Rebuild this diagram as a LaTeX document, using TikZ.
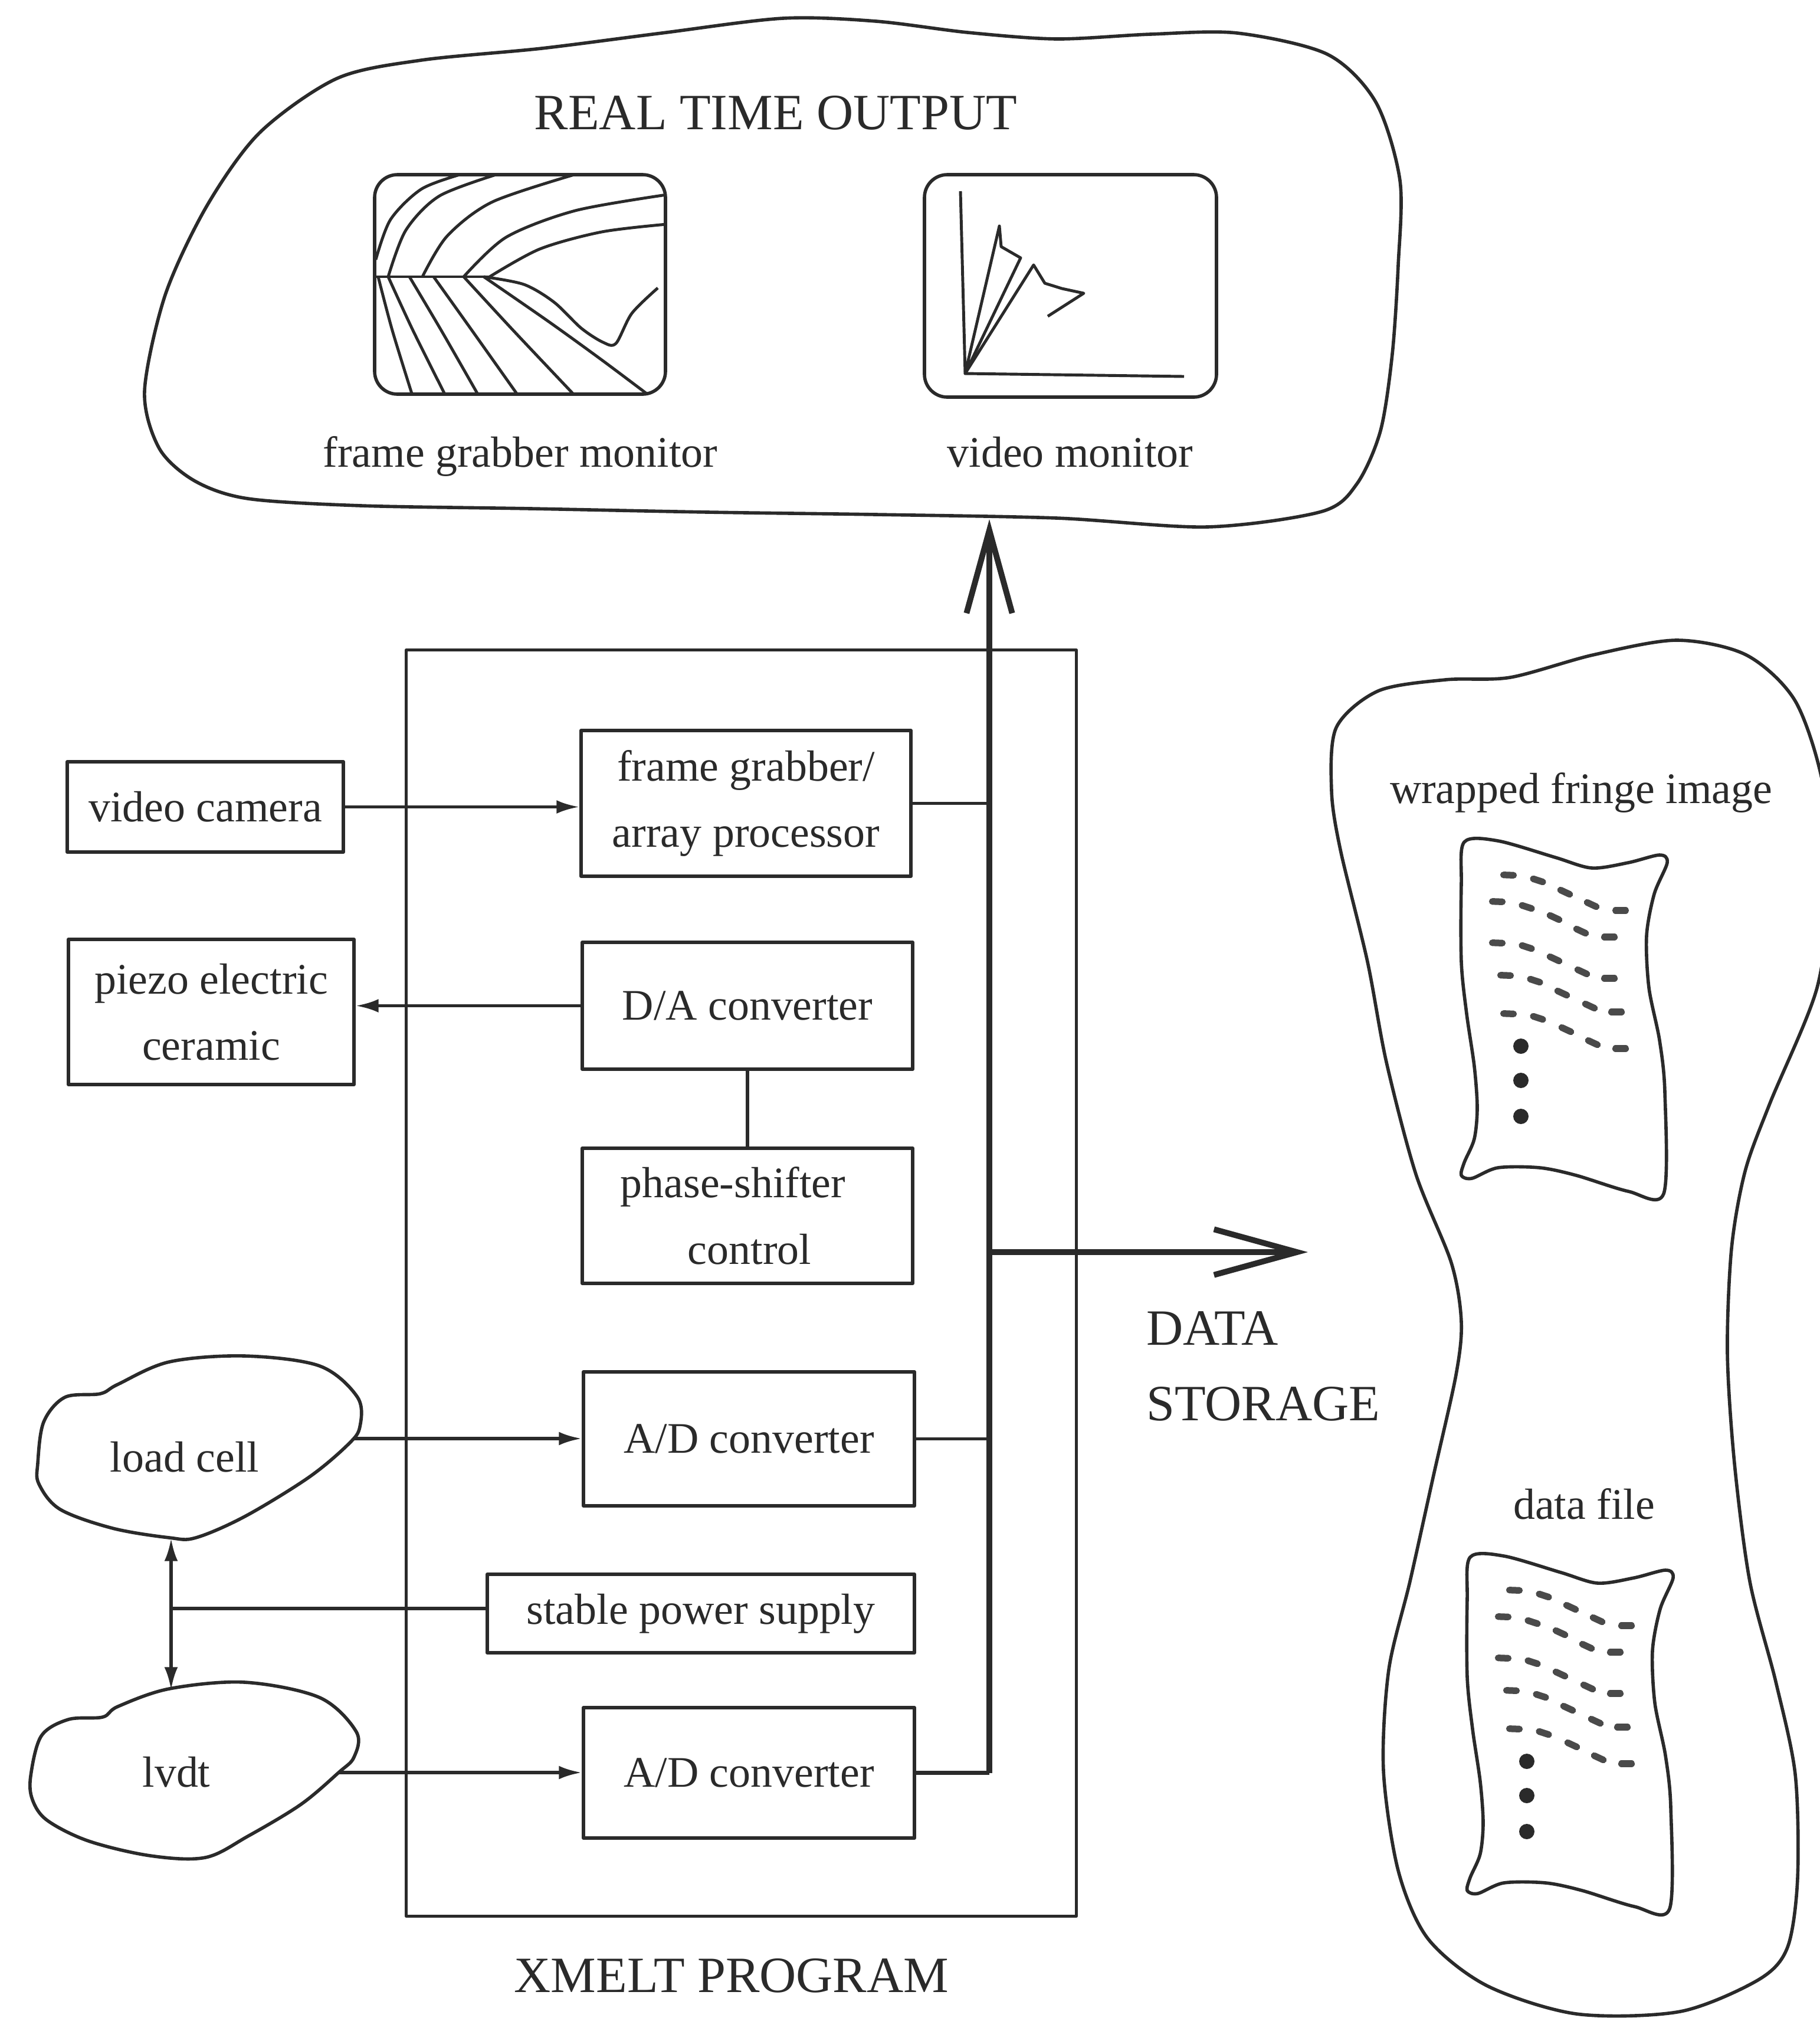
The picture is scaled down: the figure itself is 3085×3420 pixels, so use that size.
\documentclass[tikz,border=0pt]{standalone}
\usepackage{fontspec}
\setmainfont{Liberation Serif}
\usetikzlibrary{arrows.meta}
\definecolor{ink}{RGB}{42,42,42}
\newcommand{\mylbl}{\fontsize{21}{32}\selectfont}
\newcommand{\mycap}{\fontsize{24.5}{30}\selectfont}

\tikzset{
  sheet/.pic={
    \draw[blobline] plot[smooth cycle, tension=0.5] coordinates {
      (0,0) (57,-2) (154,26) (216,44) (278,35) (331,22) (344,35) (322,88)
      (309,159) (313,247) (331,336) (340,424) (338,596) (278,592) (190,565)
      (128,552) (57,552) (13,570) (-5,565) (0,543) (17,503) (22,450) (17,380)
      (4,291) (-5,203) (-5,71)};
    \foreach \px/\py/\pa in {
      75/56/2, 125/65/18, 171/85/25, 216/106/25, 265/116/0,
      56/101/2, 106/110/18, 153/128/25, 198/151/25, 246/161/0,
      56/171/2, 106/178/18, 153/198/25, 200/220/25, 246/231/0,
      70/226/2, 120/235/18, 166/256/25, 213/278/25, 258/288/0,
      75/291/2, 125/298/18, 173/318/25, 218/340/25, 265/350/0}
      \draw[ink!85, line width=3.2pt, line cap=round] (\px,\py) ++({\pa+180}:8.5) -- ++(\pa:17);
    \foreach \py in {346,404,465}
      \fill[ink] (96,\py) circle (13);
  },
}

\begin{document}
\begin{tikzpicture}[x=0.01cm, y=-0.01cm, line join=round,
  every node/.style={text=ink},
  blobline/.style={draw=ink, line width=1.6pt},
  conn/.style={draw=ink, line width=1.6pt},
  smallhead/.style={-{Latex[length=11pt,width=6.5pt]}},
  bigarrow/.style={draw=ink, line width=2.8pt, -{Straight Barb[length=40pt,width=22pt,line width=2.8pt]}},
  box/.style={draw=ink, line width=1.6pt, rectangle, inner sep=0pt, align=center, font=\mylbl},
  lbl/.style={font=\mylbl, inner sep=0pt},
  captext/.style={font=\mycap, inner sep=0pt},
  monitor/.style={draw=ink, line width=1.6pt, rounded corners=11pt},
  trace/.style={draw=ink, line width=1.4pt},
]
\useasboundingbox (0,0) rectangle (3085,3420);
\clip (0,0) rectangle (3085,3420);

% ---------- real time output ----------
\draw[blobline] plot[smooth cycle, tension=0.5] coordinates {
  (245,663) (280,500) (350,350) (440,225) (571,133) (714,102) (918,82)
  (1122,56) (1327,31) (1485,36) (1640,55) (1791,66) (1950,58) (2097,56)
  (2250,92) (2332,173) (2373,306) (2370,450) (2360,600) (2340,730)
  (2300,820) (2240,867) (2046,893) (1791,878) (1485,872) (1200,868)
  (900,862) (612,857) (420,845) (330,815) (270,760)};
\node[captext, anchor=base] (rto) at (1315,219) {REAL TIME OUTPUT};

% frame grabber monitor with fringe pattern
\draw[monitor] (635,296) rectangle (1128,668);
\begin{scope}
  \clip[rounded corners=11pt] (635,296) rectangle (1128,668);
  \draw[trace] (635,469) -- (830,469);
  \draw[trace] plot[smooth] coordinates {(637,440) (662,372) (715,320) (786,294)};
  \draw[trace] plot[smooth] coordinates {(658,469) (688,390) (745,332) (847,294)};
  \draw[trace] plot[smooth] coordinates {(716,469) (758,400) (835,342) (980,294)};
  \draw[trace] plot[smooth] coordinates {(786,469) (858,402) (975,357) (1130,330)};
  \draw[trace] plot[smooth] coordinates {(830,469) (915,422) (1020,393) (1130,380)};
  \draw[trace] plot[smooth] coordinates {(641,469) (665,560) (699,670)};
  \draw[trace] plot[smooth] coordinates {(658,469) (700,560) (755,670)};
  \draw[trace] plot[smooth] coordinates {(694,469) (748,560) (811,670)};
  \draw[trace] plot[smooth] coordinates {(735,469) (800,560) (878,670)};
  \draw[trace] plot[smooth] coordinates {(786,469) (870,560) (974,670)};
  \draw[trace] plot[smooth] coordinates {(820,469) (930,545) (1020,610) (1100,670)};
  \draw[trace] plot[smooth, tension=0.5] coordinates {(820,469) (888,482) (939,512) (985,556) (1022,580) (1044,582) (1071,531) (1115,488)};
\end{scope}
\node[lbl, anchor=base] (fgmlabel) at (882,791) {frame grabber monitor};

% video monitor with trace
\draw[monitor] (1567,296) rectangle (2062,673);
\draw[trace] (1628,324) -- (1636,633) -- (2007,638);
\draw[trace] (1636,633) -- (1694,383) -- (1697,418) -- (1730,437) -- cycle;
\draw[trace] (1636,633) -- (1752,449) -- (1771,480) -- (1800,489) -- (1837,497) -- (1776,536);
\node[lbl, anchor=base] (vmlabel) at (1814,791) {video monitor};

% ---------- XMELT program ----------
\node[draw=ink, line width=1.3pt, minimum width=11.35cm, minimum height=21.45cm, inner sep=0pt] (prog) at (1256.5,2174.5) {};
\node[captext, anchor=base] (proglabel) at (1240,3376) {XMELT PROGRAM};

\node[box, minimum width=5.59cm, minimum height=2.47cm] (fg) at (1264.5,1361.5) {frame grabber/\\array processor};
\node[box, minimum width=5.60cm, minimum height=2.15cm] (da) at (1267,1704.5) {D/A converter};
\node[box, minimum width=5.60cm, minimum height=2.29cm] (ps) at (1267,2060.5) {phase-shifter\hspace*{14pt}\\\hspace*{2pt}control};
\node[box, minimum width=5.61cm, minimum height=2.27cm] (ad1) at (1269.5,2438.5) {A/D converter};
\node[box, minimum width=7.24cm, minimum height=1.33cm] (sps) at (1188,2734.5) {stable power supply};
\node[box, minimum width=5.61cm, minimum height=2.21cm] (ad2) at (1269.5,3004.5) {A/D converter};

% ---------- outside devices ----------
\node[box, minimum width=4.68cm, minimum height=1.53cm] (cam) at (348,1367.5) {video camera};
\node[box, minimum width=4.84cm, minimum height=2.46cm] (pz) at (358,1715) {piezo electric\\ceramic};

\draw[blobline] plot[smooth cycle, tension=0.55] coordinates {
  (64,2480) (74,2410) (110,2368) (170,2362) (200,2346) (287,2308) (415,2298)
  (542,2315) (606,2368) (610,2418) (590,2448) (523,2504) (415,2570)
  (332,2606) (287,2606) (191,2590) (102,2558) (66,2515)};
\node[lbl, anchor=base] (lc) at (313,2494) {load cell};
\coordinate (lcout) at (598,2438);
\coordinate (lcbot) at (290,2607);

\draw[blobline] plot[smooth cycle, tension=0.55] coordinates {
  (52,3010) (70,2942) (116,2914) (174,2910) (200,2892) (287,2862) (415,2851)
  (542,2877) (604,2935) (600,2978) (574,3004) (510,3058) (420,3112)
  (348,3148) (255,3145) (150,3120) (80,3085) (55,3050)};
\node[lbl, anchor=base] (lv) at (299,3028) {lvdt};
\coordinate (lvout) at (574,3004);
\coordinate (lvtop) at (290,2864);
\coordinate (junc) at (290,2726);

% ---------- data storage ----------
\draw[blobline] plot[smooth cycle, tension=0.5] coordinates {
  (2265,1233) (2336,1171) (2450,1152) (2560,1148) (2700,1110) (2842,1085)
  (2960,1110) (3043,1188) (3090,1330) (3100,1500) (3080,1674) (3000,1870)
  (2958,1985) (2935,2116) (2928,2293) (2940,2480) (2966,2680) (3010,2850)
  (3043,3007) (3047,3183) (3030,3300) (2981,3355) (2848,3409) (2672,3413)
  (2520,3365) (2420,3285) (2370,3170) (2345,3000) (2354,2830) (2390,2680)
  (2430,2500) (2468,2330) (2477,2240) (2460,2140) (2400,1990) (2350,1800)
  (2318,1630) (2272,1440) (2257,1340)};
\node[lbl, anchor=base] (wfi) at (2680,1361) {wrapped fringe image};
\pic at (2482,1427) {sheet};
\node[lbl, anchor=base] (dfile) at (2685,2574) {data file};
\pic at (2492,2639) {sheet};

\node[captext, anchor=base west] (dlabel) at (1943,2279) {DATA};
\node[captext, anchor=base west] (slabel) at (1943,2407) {STORAGE};

% ---------- connections ----------
\coordinate (bustop) at (1677,880);
\coordinate (dsjoin) at (1677,2122);
\coordinate (dstip) at (2217,2122);

\draw[conn, smallhead] (cam.east) -- (cam.east -| fg.west);
\draw[conn, smallhead] (da.west) -- (da.west -| pz.east);
\draw[conn] (da.south) -- (ps.north);
\draw[conn, smallhead] (lcout) -- (lcout -| ad1.west);
\draw[conn, smallhead] (lvout) -- (lvout -| ad2.west);
\draw[conn] (junc -| sps.west) -- (junc);
\draw[conn, smallhead] (junc) -- (lcbot);
\draw[conn, smallhead] (junc) -- (lvtop);

\draw[conn] (fg.east) -- (fg.east -| bustop);
\draw[conn] (ad1.east) -- (ad1.east -| bustop);
\draw[draw=ink, line width=2.2pt] (ad2.east) -- (ad2.east -| bustop);
\draw[bigarrow] (ad2.east -| bustop) -- (bustop);
\draw[bigarrow] (dsjoin) -- (dstip);
\end{tikzpicture}
\end{document}
